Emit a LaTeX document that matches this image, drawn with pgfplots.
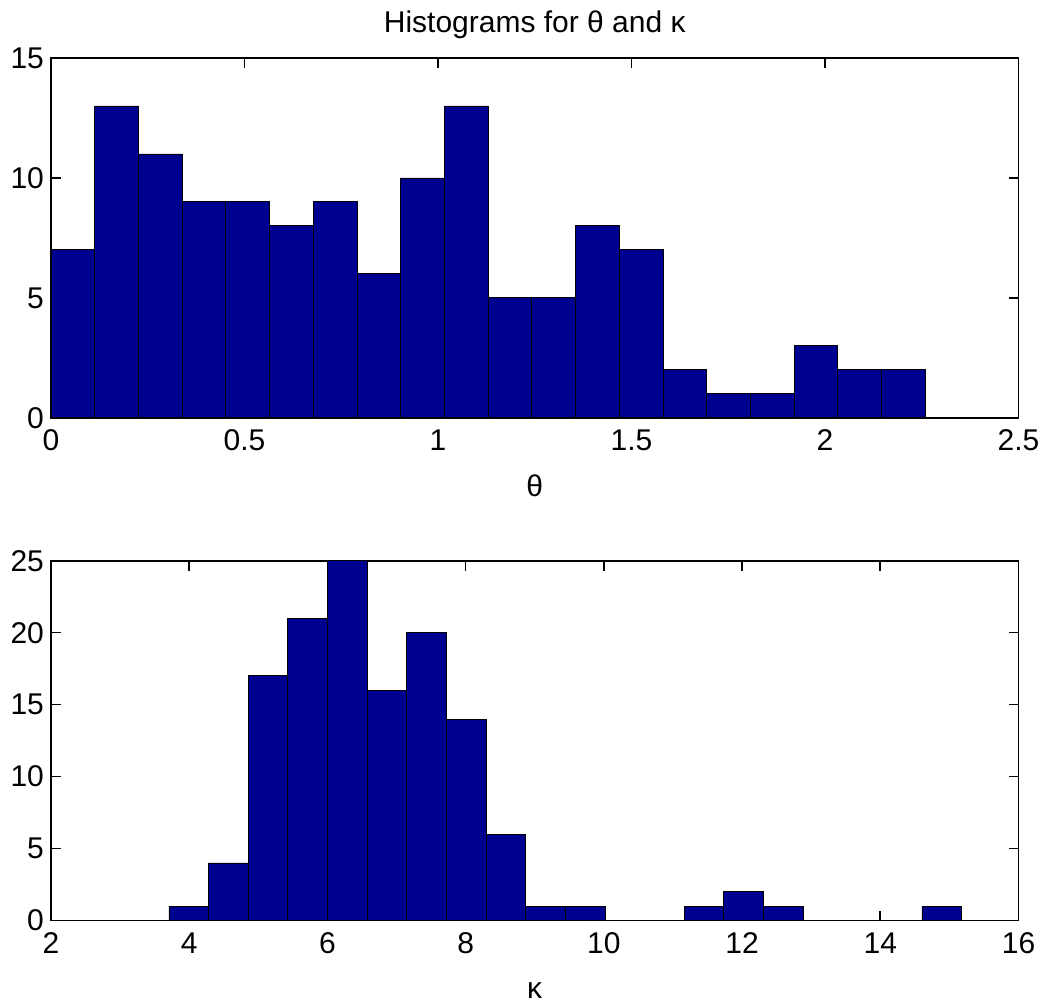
\documentclass[border=0pt]{standalone}
\usepackage{fontspec}
\setmainfont{Liberation Sans}
\usepackage{pgfplots}
\pgfplotsset{compat=1.18}
\definecolor{matnavy}{RGB}{0,0,143}

\pgfplotsset{
  histax/.style={
    scale only axis,
    width=484pt,
    height=180pt,
    axis line style={line width=0.8pt},
    tick style={line width=0.8pt, black},
    major tick length=5pt,
    xtick pos=both, ytick pos=both,
    xtick align=inside, ytick align=inside,
    ymin=0,
    /pgf/number format/assume math mode=true,
    tick label style={font=\fontsize{15}{18}\selectfont},
    xticklabel style={yshift=-2.5pt},
    label style={font=\fontsize{15}{18}\selectfont},
    title style={font=\fontsize{15}{18}\selectfont},
  },
  histbar/.style={ybar, fill=matnavy, draw=black, line width=0.4pt},
}

\begin{document}
\begin{tikzpicture}
\begin{axis}[histax,
    name=top,
    at={(0,0)}, anchor=south west,
    xmin=0, xmax=2.5, ymax=15,
    xtick={0,0.5,1,1.5,2,2.5},
    ytick={0,5,10,15},
    xlabel={θ},
    xlabel style={yshift=-5pt},
    title={Histograms for θ and κ},
]
\addplot[histbar, bar width=0.11295] coordinates {
  (0.0565,7) (0.1694,13) (0.2824,11) (0.3953,9) (0.5083,9)
  (0.6212,8) (0.7342,9) (0.8471,6) (0.9601,10) (1.0730,13)
  (1.1860,5) (1.2989,5) (1.4119,8) (1.5248,7) (1.6378,2)
  (1.7507,1) (1.8637,1) (1.9766,3) (2.0896,2) (2.2025,2)
};
\end{axis}

\begin{axis}[histax,
    name=bottom,
    at={(0,-71.5pt)}, anchor=north west,
    xmin=2, xmax=16, ymax=25,
    xtick={2,4,6,8,10,12,14,16},
    ytick={0,5,10,15,20,25},
    xlabel={κ},
    xlabel style={yshift=-7.5pt},
]
\addplot[histbar, bar width=0.5735] coordinates {
  (3.994,1) (4.567,4) (5.141,17) (5.714,21) (6.288,25)
  (6.861,16) (7.435,20) (8.008,14) (8.582,6) (9.155,1)
  (9.729,1) (11.449,1) (12.023,2) (12.596,1) (14.890,1)
};
\end{axis}

\path (-25.5pt,-293pt) rectangle (497.5pt,209pt);
\end{tikzpicture}
\end{document}
